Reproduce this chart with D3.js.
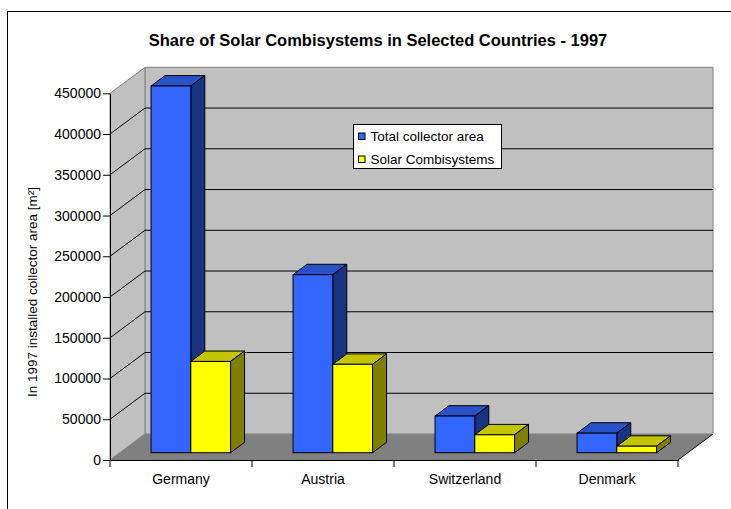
<!DOCTYPE html>
<html>
<head>
<meta charset="utf-8">
<script src="https://cdn.jsdelivr.net/npm/d3@7"></script>
<style>
  body { margin: 0; background: #fff; }
  text { font-family: Arial, "Liberation Sans", sans-serif; }
</style>
</head>
<body>
<div id="chart"></div>
<script>
const countries = ["Germany", "Austria", "Switzerland", "Denmark"];
const seriesNames = ["Total collector area", "Solar Combisystems"];
const totalArea = [450000, 218500, 45000, 24000];
const combiArea = [112000, 108500, 22000, 8000];
const yTicks = [0, 50000, 100000, 150000, 200000, 250000, 300000, 350000, 400000, 450000];

const svgWidth = 731, svgHeight = 509;
const depthX = 35, depthY = 26;          // full floor depth offset
const barZ0 = 0.28, barZ1 = 0.68;        // bar placed inside the depth

const colors = [
    {front: "#3366FF", top: "#2A52C8", side: "#1A3380"},
    {front: "#FFFF00", top: "#C4C400", side: "#808000"}
];

const data = countries.map((c, i) => ({country: c, values: [totalArea[i], combiArea[i]]}));

const svg = d3.select("#chart")
    .append("svg")
    .attr("width", svgWidth)
    .attr("height", svgHeight);

svg.append("rect")
    .attr("x", 7.5).attr("y", 11.5)
    .attr("width", 740).attr("height", 520)
    .attr("fill", "none").attr("stroke", "#000");

const yScale = d3.scaleLinear()
    .domain([0, 450000])
    .range([460, 93.3]);

const xAxisScale = d3.scaleBand()
    .domain(countries)
    .range([110, 678]);

const x0 = d3.scaleBand()
    .domain(countries)
    .range([110, 678])
    .paddingInner(0.44)
    .paddingOuter(0.22);

const x1 = d3.scaleBand()
    .domain(d3.range(seriesNames.length))
    .range([0, x0.bandwidth()]);

const [xL, xR] = xAxisScale.range();
const yTop = yScale(450000), yBot = yScale(0);

// walls and floor
svg.append("polygon")
    .attr("points", [[xL + depthX, yTop - depthY], [xR + depthX, yTop - depthY], [xR + depthX, yBot - depthY], [xL + depthX, yBot - depthY]].join(" "))
    .attr("fill", "#C0C0C0").attr("stroke", "#808080");
svg.append("polygon")
    .attr("points", [[xL, yTop], [xL + depthX, yTop - depthY], [xL + depthX, yBot - depthY], [xL, yBot]].join(" "))
    .attr("fill", "#C0C0C0").attr("stroke", "#808080");
svg.append("polygon")
    .attr("points", [[xL, yBot], [xL + depthX, yBot - depthY], [xR + depthX, yBot - depthY], [xR, yBot]].join(" "))
    .attr("fill", "#808080").attr("stroke", "none");
svg.append("line")
    .attr("x1", xR).attr("y1", yBot).attr("x2", xR + depthX).attr("y2", yBot - depthY)
    .attr("stroke", "#000");

// gridlines
const grid = yTicks.filter(t => t > 0 && t < 450000);
svg.selectAll(".gridBack")
    .data(grid).enter().append("line")
    .attr("class", "gridBack")
    .attr("x1", xL + depthX).attr("x2", xR + depthX)
    .attr("y1", d => yScale(d) - depthY).attr("y2", d => yScale(d) - depthY)
    .attr("stroke", "#000");
svg.selectAll(".gridSide")
    .data(grid).enter().append("line")
    .attr("class", "gridSide")
    .attr("x1", xL).attr("x2", xL + depthX)
    .attr("y1", d => yScale(d)).attr("y2", d => yScale(d) - depthY)
    .attr("stroke", "#000");

// bars
const bars = [];
data.forEach(d => {
    d.values.forEach((v, s) => bars.push({country: d.country, s: s, v: v}));
});

const barGroups = svg.selectAll(".bar")
    .data(bars).enter().append("g")
    .attr("class", "bar");

barGroups.each(function(d) {
    const g = d3.select(this);
    const ox = barZ0 * depthX, oy = barZ0 * depthY;
    const dx = (barZ1 - barZ0) * depthX, dy = (barZ1 - barZ0) * depthY;
    const xa = x0(d.country) + x1(d.s) + ox;
    const xb = xa + x1.bandwidth();
    const ya = yScale(d.v) - oy;
    const yb = yScale(0) - oy;
    g.append("polygon")
        .attr("points", [[xa, ya], [xa + dx, ya - dy], [xb + dx, ya - dy], [xb, ya]].join(" "))
        .attr("fill", colors[d.s].top).attr("stroke", "#000").attr("stroke-linejoin", "round");
    g.append("polygon")
        .attr("points", [[xb, ya], [xb + dx, ya - dy], [xb + dx, yb - dy], [xb, yb]].join(" "))
        .attr("fill", colors[d.s].side).attr("stroke", "#000").attr("stroke-linejoin", "round");
    g.append("rect")
        .attr("x", xa).attr("y", ya)
        .attr("width", xb - xa).attr("height", yb - ya)
        .attr("fill", colors[d.s].front).attr("stroke", "#000");
});

// axes
const yAxis = d3.axisLeft(yScale)
    .tickValues(yTicks)
    .tickFormat(d3.format("d"))
    .tickSize(7)
    .tickSizeOuter(0)
    .tickPadding(2);

svg.append("g")
    .attr("class", "yaxis")
    .attr("transform", `translate(${xL}, 0)`)
    .call(yAxis)
    .call(g => g.selectAll("text").attr("font-size", 14).attr("fill", "#000").attr("font-family", "Arial, 'Liberation Sans', sans-serif"));

const xAxis = d3.axisBottom(xAxisScale)
    .tickSize(0)
    .tickSizeOuter(0)
    .tickPadding(14);

svg.append("g")
    .attr("class", "xaxis")
    .attr("transform", `translate(0, ${yBot})`)
    .call(xAxis)
    .call(g => g.selectAll("text").attr("font-size", 14).attr("fill", "#000").attr("font-family", "Arial, 'Liberation Sans', sans-serif"));

const bounds = countries.map(c => xAxisScale(c)).concat([xR]);
svg.selectAll(".xtick")
    .data(bounds).enter().append("line")
    .attr("class", "xtick")
    .attr("x1", d => d).attr("x2", d => d)
    .attr("y1", yBot).attr("y2", yBot + 7)
    .attr("stroke", "#000");

// titles
svg.append("text")
    .attr("x", 378).attr("y", 46)
    .attr("text-anchor", "middle")
    .attr("font-size", 16.5).attr("font-weight", "bold")
    .text("Share of Solar Combisystems in Selected Countries - 1997");

svg.append("text")
    .attr("transform", "translate(37, 292) rotate(-90)")
    .attr("text-anchor", "middle")
    .attr("font-size", 13.5)
    .text("In 1997 installed collector area [m²]");

// legend
const legend = svg.append("g").attr("transform", "translate(353.5, 124.5)");
legend.append("rect")
    .attr("width", 148).attr("height", 44)
    .attr("fill", "#fff").attr("stroke", "#000");
seriesNames.forEach((name, i) => {
    legend.append("rect")
        .attr("x", 5).attr("y", 8.5 + i * 23)
        .attr("width", 6.5).attr("height", 6.5)
        .attr("fill", colors[i].front).attr("stroke", "#000");
    legend.append("text")
        .attr("x", 17).attr("y", 16.5 + i * 23)
        .attr("font-size", 13.5)
        .text(name);
});
</script>
</body>
</html>
